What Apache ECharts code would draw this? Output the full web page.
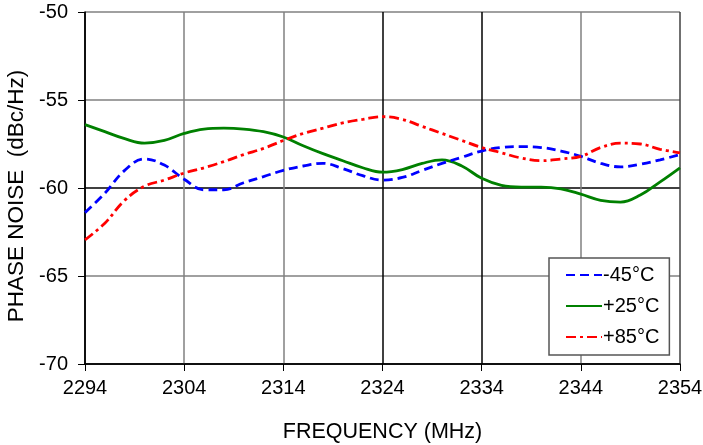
<!DOCTYPE html>
<html>
<head>
<meta charset="utf-8">
<script src="https://cdn.jsdelivr.net/npm/echarts@6/dist/echarts.min.js"></script>
<style>html,body{margin:0;padding:0;background:#fff}#c{width:703px;height:445px}</style>
</head>
<body>
<div id="c"></div>
<script>
var freqs = [2294,2296,2298,2300,2302,2304,2306,2308,2310,2312,2314,2316,2318,2320,2322,2324,2326,2328,2330,2332,2334,2336,2338,2340,2342,2344,2346,2348,2350,2352,2354];
var m45 = [-61.4,-60.3,-59.0,-58.35,-58.7,-59.5,-60.1,-60.1,-59.7,-59.35,-59.0,-58.75,-58.6,-58.9,-59.3,-59.55,-59.4,-59.0,-58.6,-58.25,-57.9,-57.7,-57.65,-57.7,-57.9,-58.2,-58.6,-58.8,-58.65,-58.4,-58.1];
var p25 = [-56.4,-56.8,-57.2,-57.45,-57.3,-56.9,-56.65,-56.6,-56.65,-56.8,-57.1,-57.6,-58.05,-58.45,-58.85,-59.1,-58.95,-58.6,-58.4,-58.75,-59.45,-59.85,-59.95,-59.95,-60.05,-60.35,-60.7,-60.8,-60.4,-59.65,-58.85];
var p85 = [-62.95,-62.0,-60.7,-59.9,-59.55,-59.15,-58.85,-58.5,-58.1,-57.75,-57.3,-56.9,-56.6,-56.3,-56.1,-55.95,-56.1,-56.5,-56.9,-57.3,-57.7,-58.0,-58.3,-58.45,-58.35,-58.2,-57.7,-57.45,-57.5,-57.8,-58.0];
var seriesNames = ['-45°C','+25°C','+85°C'];

function pairs(arr){ return freqs.map(function(f,i){ return [f, arr[i]]; }); }

var chart = echarts.init(document.getElementById('c'));
var font = 'Liberation Sans, Arial, sans-serif';
chart.setOption({
  animation: false,
  backgroundColor: '#fff',
  grid: {left: 85, right: 23, top: 12, bottom: 81, containLabel: false, outerBoundsMode: 'none'},
  legend: {
    orient: 'vertical', left: 549, top: 258,
    width: 127, height: 99,
    padding: [7, 10, 8, 16],
    itemGap: 11, itemWidth: 36, itemHeight: 14,
    backgroundColor: '#fff', borderColor: '#555', borderWidth: 1.5,
    itemStyle: {opacity: 0},
    textStyle: {fontFamily: font, fontSize: 20, color: '#000', padding: [0,0,0,-4]},
    data: seriesNames
  },
  xAxis: {
    type: 'value', min: 2294, max: 2354, interval: 10,
    name: 'FREQUENCY (MHz)', nameLocation: 'middle', nameGap: 57,
    nameTextStyle: {fontFamily: font, fontSize: 21.5, color: '#000'},
    axisLine: {show: true, lineStyle: {color: '#000', width: 1.5}},
    axisTick: {show: true, length: 7, lineStyle: {color: '#000', width: 1}},
    axisLabel: {fontFamily: font, fontSize: 20, color: '#000', margin: 14, formatter: function(v){ return String(v); }},
    splitLine: {show: true, lineStyle: {color: ['#000','#808080','#808080','#000','#000','#808080','#404040'], width: 1.5}}
  },
  yAxis: {
    type: 'value', min: -70, max: -50, interval: 5,
    name: 'PHASE NOISE  (dBc/Hz)', nameLocation: 'middle', nameGap: 55,
    nameTextStyle: {fontFamily: font, fontSize: 22.5, color: '#000', padding: [0, 16, 0, 0]},
    axisLine: {show: true, lineStyle: {color: '#000', width: 1.5}},
    axisTick: {show: true, length: 7, lineStyle: {color: '#000', width: 1}},
    axisLabel: {fontFamily: font, fontSize: 20, color: '#000', margin: 17},
    splitLine: {show: true, lineStyle: {color: ['#000','#808080','#000','#808080','#808080'], width: 1.5}}
  },
  series: [
    {name: seriesNames[0], type: 'line', data: pairs(m45), smooth: 0.4, showSymbol: false, symbol: 'none',
     lineStyle: {color: '#0000ff', width: 2.8, type: [9, 5]}, itemStyle: {color: '#0000ff'}, z: 3},
    {name: seriesNames[1], type: 'line', data: pairs(p25), smooth: 0.4, showSymbol: false, symbol: 'none',
     lineStyle: {color: '#008000', width: 2.8, type: 'solid'}, itemStyle: {color: '#008000'}, z: 2},
    {name: seriesNames[2], type: 'line', data: pairs(p85), smooth: 0.4, showSymbol: false, symbol: 'none',
     lineStyle: {color: '#ff0000', width: 2.8, type: [10, 4, 3, 4]}, itemStyle: {color: '#ff0000'}, z: 4}
  ]
});
</script>
</body>
</html>
